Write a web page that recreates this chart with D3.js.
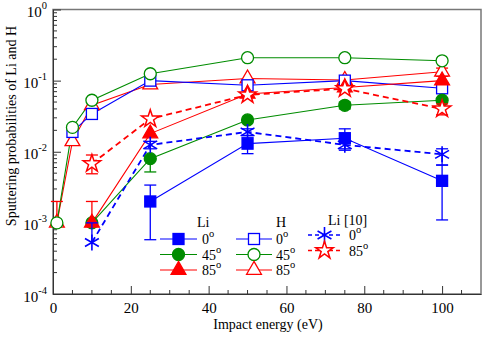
<!DOCTYPE html>
<html>
<head>
<meta charset="utf-8">
<script src="https://cdn.jsdelivr.net/npm/d3@7"></script>
<style>
  body { margin: 0; background: #fff; }
  svg text { font-family: 'Liberation Serif', 'DejaVu Serif Condensed', 'DejaVu Serif', serif !important; font-stretch: condensed; }
</style>
</head>
<body>
<div id="chart"></div>
<script>
// energies (eV)
const hEnergy = [1, 5, 10, 25, 50, 75, 100]
const liEnergy = [10, 25, 50, 75, 100]

// H sputtering probabilities (open symbols)
const h0 = [null, 0.019, 0.034, 0.10, 0.086, 0.10, 0.078]
const h45 = [0.001, 0.022, 0.053, 0.125, 0.21, 0.21, 0.19]
const h85 = [0.001, 0.014, 0.045, 0.088, 0.107, 0.102, 0.133]
const h85Lo = [null, null, null, null, null, null, 0.12]
const h85Hi = [0.002, null, null, null, null, null, 0.15]

// Li sputtering probabilities (filled symbols)
const li0 = [null, 0.002, 0.013, 0.0155, 0.0039]
const li0Lo = [null, 0.00058, 0.0094, 0.0105, 0.0011]
const li0Hi = [null, 0.0034, 0.016, 0.021, 0.0065]
const li45 = [0.001, 0.008, 0.028, 0.045, 0.053]
const li45Lo = [null, 0.0052, null, 0.04, null]
const li45Hi = [null, null, null, 0.05, null]
const li85 = [0.001, 0.018, 0.065, 0.08, 0.1]
const li85Lo = [null, null, null, null, 0.09]
const li85Hi = [0.002, null, null, null, 0.115]

// Li from ref. [10]
const ref0 = [0.00053, 0.0125, 0.019, 0.0125, 0.0092]
const ref0Lo = [null, 0.011, 0.017, 0.011, 0.0065]
const ref0Hi = [0.001, 0.014, 0.021, 0.014, 0.011]
const ref85 = [0.0068, 0.029, 0.063, 0.077, 0.04]
const ref85Lo = [0.0049, null, null, 0.07, 0.033]
const ref85Hi = [0.009, null, null, 0.085, 0.047]

const xTicks = [0, 20, 40, 60, 80, 100]
const yTicks = [1e-4, 1e-3, 1e-2, 1e-1, 1]

const BLUE = '#0000ff', GREEN = '#008c00', RED = '#ff0000'
const FS = 14, FSUP = 10.5

let width = 484, height = 337
let margin = {top: 9.5, right: 3, bottom: 43, left: 53}
let innerWidth = width - margin.left - margin.right
let innerHeight = height - margin.top - margin.bottom

const svg = d3.select('#chart').append('svg')
  .attr('width', width).attr('height', height)

const g = svg.append('g').attr('transform', `translate(${margin.left},${margin.top})`)

let xScale = d3.scaleLinear().domain([0, 110]).range([0, innerWidth])
let yScale = d3.scaleLog().domain([1e-4, 1]).range([innerHeight, 0])

// frame
g.append('rect').attr('width', innerWidth).attr('height', innerHeight)
  .attr('fill', 'none').attr('stroke', '#777').attr('stroke-width', 1.5)

// x axis, ticks pointing inside
let xMinor = d3.range(0, 110, 5).filter(v => v % 20 != 0)
let gx = g.append('g').attr('transform', `translate(0,${innerHeight})`)
gx.call(d3.axisBottom(xScale).tickValues(xTicks).tickSizeInner(-8).tickSizeOuter(0).tickPadding(8).tickFormat(d3.format('d')))
gx.selectAll('.minor').data(xMinor).enter().append('line').attr('class', 'minor')
  .attr('x1', d => xScale(d)).attr('x2', d => xScale(d)).attr('y1', 0).attr('y2', -4)
  .attr('stroke', '#333')
gx.select('.domain').attr('stroke', '#333')
gx.selectAll('.tick line').attr('stroke', '#333')
gx.selectAll('text').attr('font-size', FS + 1).attr('fill', '#000')

// y axis
let yMinor = []
for (let e = -4; e < 0; e++) for (let m = 2; m < 10; m++) yMinor.push(m * Math.pow(10, e))
let gy = g.append('g')
gy.call(d3.axisLeft(yScale).tickValues(yTicks).tickSizeInner(-8).tickSizeOuter(0).tickFormat(''))
gy.selectAll('.minor').data(yMinor).enter().append('line').attr('class', 'minor')
  .attr('x1', 0).attr('x2', 4).attr('y1', d => yScale(d)).attr('y2', d => yScale(d))
  .attr('stroke', '#333')
gy.select('.domain').attr('stroke', '#333')
gy.selectAll('.tick line').attr('stroke', '#333')
gy.selectAll('.tick').each(function (d) {
  let t = d3.select(this).append('text').attr('x', -6).attr('y', 7)
    .attr('text-anchor', 'end').attr('fill', '#000').attr('font-size', FS + 1)
  t.append('tspan').text('10')
  t.append('tspan').attr('dy', -8).attr('font-size', FSUP).text(Math.round(Math.log10(d)))
})

// axis titles
svg.append('text').attr('x', 268).attr('y', 329)
  .attr('text-anchor', 'middle').attr('font-size', FS).text('Impact energy (eV)')
svg.append('text').attr('transform', `translate(16,126) rotate(-90)`)
  .attr('text-anchor', 'middle').attr('font-size', FS).text('Sputtering probabilities  of Li and H')

// marker drawing
function asteriskPath(r) {
  let p = ''
  ;[90, 30, 150].forEach(a => {
    let dx = r * Math.cos(a * Math.PI / 180), dy = r * Math.sin(a * Math.PI / 180)
    p += `M${-dx},${-dy}L${dx},${dy}`
  })
  return p
}
function drawMarker(sel, kind, color, filled) {
  let fill = filled ? color : '#fff'
  if (kind == 'square') sel.append('rect').attr('x', -5.5).attr('y', -5.5).attr('width', 11).attr('height', 11)
    .attr('fill', fill).attr('stroke', color).attr('stroke-width', 1.3)
  else if (kind == 'circle') sel.append('circle').attr('r', 6)
    .attr('fill', fill).attr('stroke', color).attr('stroke-width', 1.3)
  else if (kind == 'triangle') sel.append('path').attr('d', d3.symbol(d3.symbolTriangle, 95)())
    .attr('fill', fill).attr('stroke', color).attr('stroke-width', 1.3)
  else if (kind == 'star') sel.append('path').attr('d', d3.symbol(d3.symbolStar, 95)())
    .attr('fill', '#fff').attr('stroke', color).attr('stroke-width', 1.5)
  else if (kind == 'asterisk') sel.append('path').attr('d', asteriskPath(8))
    .attr('fill', 'none').attr('stroke', color).attr('stroke-width', 1.6)
}

let series = [
  {x: hEnergy, y: h85, lo: h85Lo, hi: h85Hi, color: RED, kind: 'triangle', filled: false},
  {x: hEnergy, y: h0, color: BLUE, kind: 'square', filled: false},
  {x: hEnergy, y: h45, color: GREEN, kind: 'circle', filled: false},
  {x: liEnergy, y: li0, lo: li0Lo, hi: li0Hi, color: BLUE, kind: 'square', filled: true},
  {x: liEnergy, y: li45, lo: li45Lo, hi: li45Hi, color: GREEN, kind: 'circle', filled: true},
  {x: liEnergy, y: li85, lo: li85Lo, hi: li85Hi, color: RED, kind: 'triangle', filled: true},
  {x: liEnergy, y: ref0, lo: ref0Lo, hi: ref0Hi, color: BLUE, kind: 'asterisk', dashed: true},
  {x: liEnergy, y: ref85, lo: ref85Lo, hi: ref85Hi, color: RED, kind: 'star', dashed: true}
]

let line = d3.line().defined(d => d.y != null).x(d => xScale(d.x)).y(d => yScale(d.y))

series.forEach(s => {
  let pts = s.x.map((x, i) => ({x: x, y: s.y[i], lo: s.lo ? s.lo[i] : null, hi: s.hi ? s.hi[i] : null}))
  g.append('path').datum(pts).attr('d', line).attr('fill', 'none')
    .attr('stroke', s.color).attr('stroke-width', s.dashed ? 1.8 : 1.1)
    .attr('stroke-dasharray', s.dashed ? '6,4' : null)
})

series.forEach(s => {
  let pts = s.x.map((x, i) => ({x: x, y: s.y[i], lo: s.lo ? s.lo[i] : null, hi: s.hi ? s.hi[i] : null}))
    .filter(d => d.y != null)
  // error bars
  pts.filter(d => d.lo != null || d.hi != null).forEach(d => {
    let cx = xScale(d.x)
    let y1 = yScale(d.lo != null ? d.lo : d.y), y2 = yScale(d.hi != null ? d.hi : d.y)
    let eg = g.append('g').attr('stroke', s.color).attr('stroke-width', 1.3)
    eg.append('line').attr('x1', cx).attr('x2', cx).attr('y1', y1).attr('y2', y2)
    if (d.lo != null) eg.append('line').attr('x1', cx - 6).attr('x2', cx + 6).attr('y1', y1).attr('y2', y1)
    if (d.hi != null) eg.append('line').attr('x1', cx - 6).attr('x2', cx + 6).attr('y1', y2).attr('y2', y2)
  })
  pts.forEach(d => {
    let m = g.append('g').attr('transform', `translate(${xScale(d.x)},${yScale(d.y)})`)
    drawMarker(m, s.kind, s.color, s.filled)
  })
})

// legends
function legendBlock(title, tx, ty, x0, x1, rows, labelX) {
  svg.append('text').attr('x', tx).attr('y', ty).attr('font-size', FS).text(title)
  rows.forEach(r => {
    svg.append('line').attr('x1', x0).attr('x2', x1).attr('y1', r.y).attr('y2', r.y)
      .attr('stroke', r.color).attr('stroke-width', r.dashed ? 1.5 : 1.1)
      .attr('stroke-dasharray', r.dashed ? '4,3' : null)
    let m = svg.append('g').attr('transform', `translate(${(x0 + x1) / 2},${r.y})`)
    drawMarker(m, r.kind, r.color, r.filled)
    let t = svg.append('text').attr('x', labelX).attr('y', r.y + 5).attr('font-size', FS)
    t.append('tspan').text(r.label)
    t.append('tspan').attr('dy', -7).attr('font-size', FSUP).text('o')
  })
}
legendBlock('Li', 197, 227, 160, 197, [
  {y: 239, color: BLUE, kind: 'square', filled: true, label: '0'},
  {y: 254.5, color: GREEN, kind: 'circle', filled: true, label: '45'},
  {y: 270, color: RED, kind: 'triangle', filled: true, label: '85'}
], 202)
legendBlock('H', 276, 227, 236, 272, [
  {y: 239, color: BLUE, kind: 'square', filled: false, label: '0'},
  {y: 254.5, color: GREEN, kind: 'circle', filled: false, label: '45'},
  {y: 270, color: RED, kind: 'triangle', filled: false, label: '85'}
], 276)
legendBlock('Li  [10]', 328, 225, 308, 341, [
  {y: 235, color: BLUE, kind: 'asterisk', dashed: true, label: '0'},
  {y: 250.5, color: RED, kind: 'star', dashed: true, label: '85'}
], 349)
</script>
</body>
</html>
